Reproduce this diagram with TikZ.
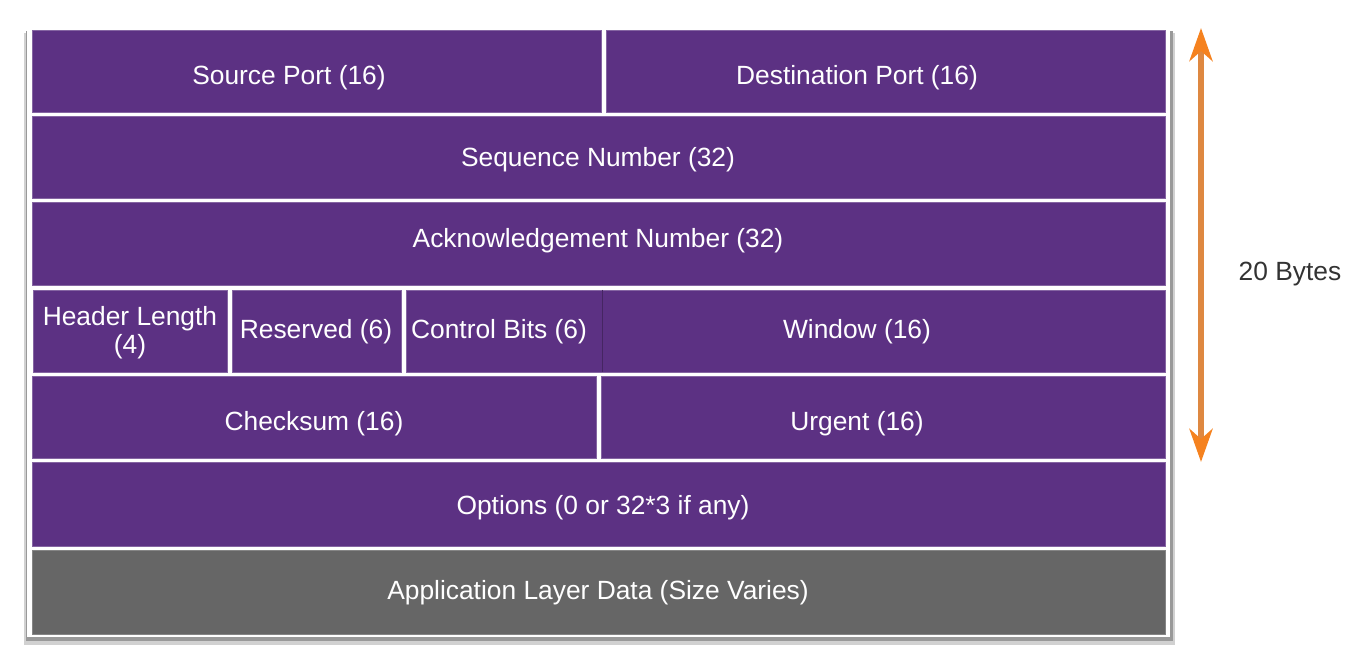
\documentclass[tikz,border=0pt]{standalone}
\usepackage{fontspec}
\setmainfont{Liberation Sans}
\usetikzlibrary{arrows.meta}
\definecolor{tcppurple}{HTML}{5C3183}
\definecolor{appgray}{HTML}{666666}
\definecolor{arrowshaft}{HTML}{DE8841}
\definecolor{arrowhead}{HTML}{F5821F}
\definecolor{bytetext}{HTML}{333333}
\tikzset{
  field/.style={fill=tcppurple, draw=tcppurple!75!white, line width=0.4pt},
  appfield/.style={fill=appgray, draw=appgray!80!white, line width=0.4pt},
  fieldtext/.style={text=white, font=\fontsize{15}{16}\selectfont, align=center, inner sep=0pt},
  bytearrow/.style={draw=arrowshaft, line width=0.12cm,
    {Stealth[length=0.66cm,width=0.46cm,inset=0.2cm,color=arrowhead]}-{Stealth[length=0.66cm,width=0.46cm,inset=0.2cm,color=arrowhead]}},
}

\begin{document}
\begin{tikzpicture}[x=0.02cm,y=-0.02cm]
	\useasboundingbox (0,0) rectangle (1359,668);
	% shadow and white frame
	\fill[black!18] (24,33) rectangle (1175,645);
	\fill[black!40] (25.5,31) rectangle (1172.5,640.5);
	\fill[white] (27,29) rectangle (1170,637);
	% ports
	\draw[field] (32,30) rectangle (601,112);
	\draw[field] (606,30) rectangle (1165,112);
	\node[fieldtext] (src) at (289,78) {Source Port (16)};
	\node[fieldtext] (dst) at (857,78) {Destination Port (16)};
	% sequence and acknowledgement
	\draw[field] (32,116) rectangle (1165,198);
	\node[fieldtext] (seq) at (598,160) {Sequence Number (32)};
	\draw[field] (32,202) rectangle (1165,285);
	\node[fieldtext] (ack) at (598,241) {Acknowledgement Number (32)};
	% header length, reserved, control bits, window
	\draw[field] (33,290) rectangle (227,372);
	\draw[field] (232,290) rectangle (401,372);
	\draw[field] (406,290) rectangle (1165,372);
	\draw[tcppurple!75!black] (602,290) -- (602,372);
	\node[fieldtext] (hlen) at (130,333) {Header Length\\(4)};
	\node[fieldtext] (res) at (316,332) {Reserved (6)};
	\node[fieldtext] (ctrl) at (499,332) {Control Bits (6)};
	\node[fieldtext] (win) at (857,332) {Window (16)};
	% checksum and urgent
	\draw[field] (32,376) rectangle (596,458);
	\draw[field] (601,376) rectangle (1165,458);
	\node[fieldtext] (chk) at (314,424) {Checksum (16)};
	\node[fieldtext] (urg) at (857,424) {Urgent (16)};
	% options and data
	\draw[field] (32,462) rectangle (1165,546);
	\node[fieldtext] (opt) at (603,508) {Options (0 or 32*3 if any)};
	\draw[appfield] (32,550) rectangle (1165,634);
	\node[fieldtext] (app) at (598,593) {Application Layer Data (Size Varies)};
	% 20 bytes
	\coordinate (arrtop) at (1201,28);
	\coordinate (arrbot) at (1201,462);
	\draw[bytearrow] (arrtop) -- (arrbot);
	\node[text=bytetext, font=\fontsize{15}{16}\selectfont] (bytes) at (1290,274) {20 Bytes};
\end{tikzpicture}
\end{document}
